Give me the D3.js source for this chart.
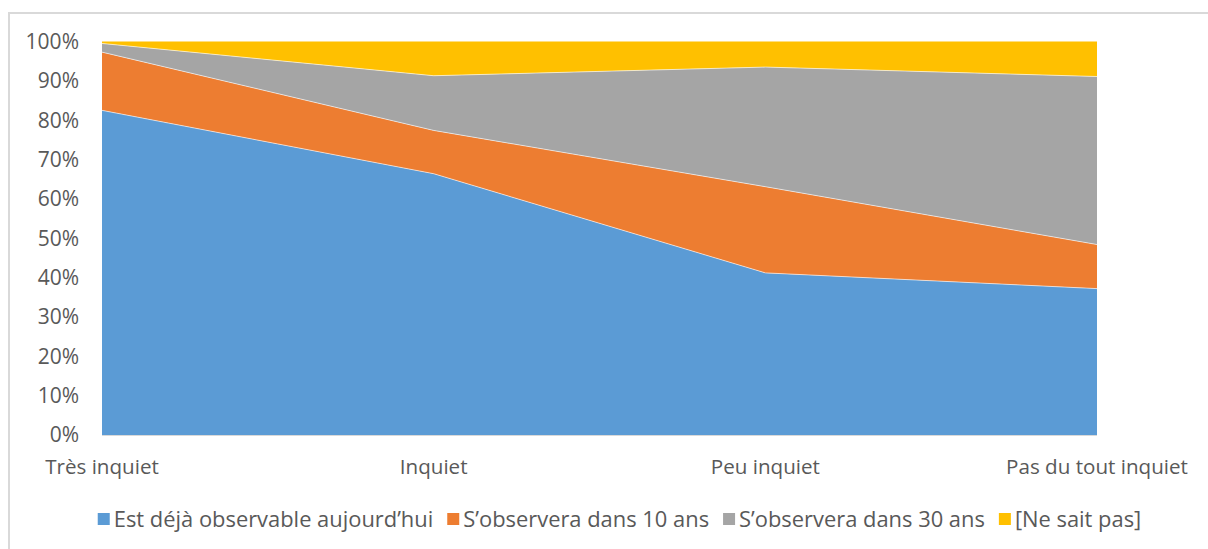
<!DOCTYPE html>
<html><head><meta charset="utf-8">
<script src="https://cdn.jsdelivr.net/npm/d3@7"></script>
<style>body{margin:0;background:#fff}svg{display:block}text{font-family:"Open Sans",Lato,sans-serif;fill:#595959}</style>
</head><body>
<svg id="c" width="1208" height="549"></svg>
<script>
const categories = ["Très inquiet", "Inquiet", "Peu inquiet", "Pas du tout inquiet"];
const seriesNames = ["Est déjà observable aujourd’hui", "S’observera dans 10 ans", "S’observera dans 30 ans", "[Ne sait pas]"];
const dejaObservable = [82.5, 66.4, 41.2, 37.2];
const dans10ans = [14.8, 11.0, 21.9, 11.2];
const dans30ans = [2.2, 13.9, 30.4, 42.7];
const neSaitPas = [0.5, 8.7, 6.5, 8.9];
const yTicks = [0, 10, 20, 30, 40, 50, 60, 70, 80, 90, 100];
const colors = ["#5B9BD5", "#ED7D31", "#A5A5A5", "#FFC000"];

const svg = d3.select("#c");
svg.append("rect").attr("x", 9).attr("y", 13).attr("width", 1210).attr("height", 560)
  .attr("fill", "none").attr("stroke", "#D9D9D9").attr("stroke-width", 2);

const x = d3.scalePoint().domain(categories).range([102, 1097]);
const y = d3.scaleLinear().domain([0, 100]).range([435, 41.5]);

const rows = categories.map((c, i) => ({cat: c, s0: dejaObservable[i], s1: dans10ans[i], s2: dans30ans[i], s3: neSaitPas[i]}));
const stack = d3.stack().keys(["s0", "s1", "s2", "s3"]);
const layers = stack(rows);
const area = d3.area().x(d => x(d.data.cat)).y0(d => y(d[0])).y1(d => y(d[1]));
svg.append("g").selectAll("path").data(layers).join("path")
  .attr("d", area).attr("fill", (d, i) => colors[i]);
const line = d3.line().x(d => x(d.data.cat)).y(d => y(d[1]));
svg.append("g").selectAll("path").data(layers.slice(0, 3)).join("path")
  .attr("d", line).attr("fill", "none").attr("stroke", "#fff").attr("stroke-opacity", 0.6).attr("stroke-width", 1);

// x axis line
svg.append("line").attr("x1", 102).attr("x2", 1097).attr("y1", 435.5).attr("y2", 435.5)
  .attr("stroke", "#D9D9D9").attr("stroke-width", 1);

// y labels
svg.append("g").selectAll("text").data(yTicks).join("text")
  .attr("x", 79).attr("y", d => y(d)).attr("dy", "0.35em").attr("text-anchor", "end")
  .attr("font-size", 21).text(d => d + "%");

// x labels
svg.append("g").selectAll("text").data(categories).join("text")
  .attr("x", d => x(d)).attr("y", 474).attr("text-anchor", "middle")
  .attr("font-size", 20.6).text(d => d);

// legend
const lg = svg.append("g");
let cx = 0;
seriesNames.forEach((n, i) => {
  const g = lg.append("g");
  g.append("rect").attr("x", 0).attr("y", -6).attr("width", 12).attr("height", 12).attr("fill", colors[i]);
  const t = g.append("text").attr("x", 16).attr("y", 0).attr("dy", "0.35em").attr("font-size", 21.9).text(n);
  const w = 16 + t.node().getComputedTextLength();
  g.attr("transform", `translate(${cx},519)`);
  cx += w + 14;
});
const total = cx - 14;
lg.attr("transform", `translate(${619.5 - total / 2},0)`);
</script>
</body></html>
